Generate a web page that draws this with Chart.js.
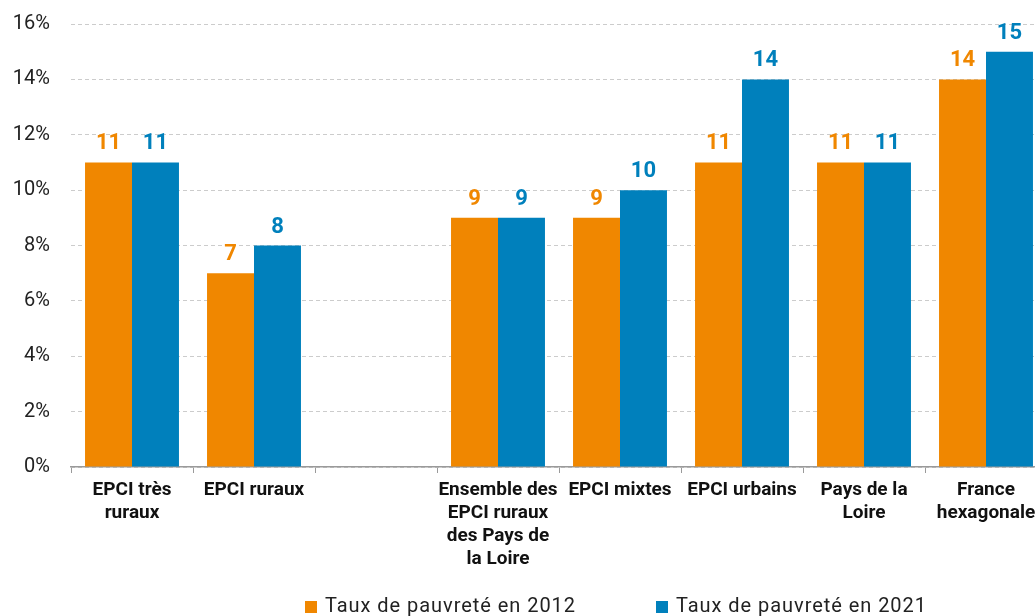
<!DOCTYPE html>
<html>
<head>
<meta charset="utf-8">
<script src="https://cdn.jsdelivr.net/npm/chart.js@4.4.0/dist/chart.umd.min.js"></script>
<style>
    html, body { margin: 0; padding: 0; background: #fff; overflow: hidden; }
    #wrap { position: relative; width: 1048px; height: 616px; }
    #legend {
        position: absolute; left: 305px; top: 594px;
        display: flex; align-items: center;
        font-family: Roboto, sans-serif; font-size: 20px; letter-spacing: 0.95px;
        line-height: 23px; color: #222;
    }
    .item { display: flex; align-items: center; margin-right: 80px; }
    .box { width: 12px; height: 12px; margin-right: 8px; margin-top: 2px; }
</style>
</head>
<body>
<div id="wrap">
    <canvas id="povertyChart" width="1048" height="616"></canvas>
    <div id="legend"></div>
</div>
<script>
var categories = [
    ["EPCI très", "ruraux"],
    ["EPCI ruraux"],
    "",
    ["Ensemble des", "EPCI ruraux", "des Pays de", "la Loire"],
    ["EPCI mixtes"],
    ["EPCI urbains"],
    ["Pays de la", "Loire"],
    ["France", "hexagonale"]
];
var taux2012 = [11, 7, null, 9, 9, 11, 11, 14];
var taux2021 = [11, 8, null, 9, 10, 14, 11, 15];
var yTicks = [0, 2, 4, 6, 8, 10, 12, 14, 16];
var seriesNames = ["Taux de pauvreté en 2012", "Taux de pauvreté en 2021"];
var seriesColors = ["#F08700", "#0080BC"];

// value labels drawn above each bar
const barValues = {
    id: "barValues",
    afterDatasetsDraw(chart) {
        const ctx = chart.ctx;
        ctx.save();
        ctx.font = "bold 22px Roboto";
        ctx.textAlign = "center";
        ctx.textBaseline = "alphabetic";
        chart.data.datasets.forEach(function (ds, i) {
            chart.getDatasetMeta(i).data.forEach(function (bar, j) {
                if (ds.data[j] === null) return;
                ctx.fillStyle = seriesColors[i];
                ctx.fillText(ds.data[j], bar.x, bar.y - 13);
            });
        });
        ctx.restore();
    },
};

var ctx = document.getElementById("povertyChart");
var myBarChart = new Chart(ctx, {
    type: "bar",
    data: {
        labels: categories,
        datasets: [
            {
                label: seriesNames[0],
                data: taux2012,
                backgroundColor: seriesColors[0],
                barPercentage: 1,
                categoryPercentage: 0.77,
            },
            {
                label: seriesNames[1],
                data: taux2021,
                backgroundColor: seriesColors[1],
                barPercentage: 1,
                categoryPercentage: 0.77,
            },
        ],
    },
    options: {
        responsive: false,
        animation: false,
        layout: {
            padding: { top: 24, right: 1, bottom: 38, left: 0 },
        },
        plugins: {
            legend: { display: false },
            tooltip: { enabled: false },
        },
        scales: {
            x: {
                grid: {
                    offset: true,
                    drawOnChartArea: false,
                    drawTicks: true,
                    tickLength: 6,
                    color: "#9a9a9a",
                },
                border: { color: "#9a9a9a", width: 1.5 },
                ticks: {
                    color: "#111",
                    font: { family: "Roboto", size: 19, weight: "bold", lineHeight: 1.21 },
                    padding: 6,
                    maxRotation: 0,
                    autoSkip: false,
                },
                afterFit: function (axis) {
                    axis.height = 111;
                },
            },
            y: {
                min: 0,
                max: 16,
                afterBuildTicks: function (axis) {
                    axis.ticks = yTicks.map(function (v) { return { value: v }; });
                },
                grid: {
                    color: "#cccccc",
                    drawTicks: false,
                },
                border: { display: false, dash: [4, 3] },
                ticks: {
                    color: "#222",
                    font: { family: "Roboto", size: 20 },
                    padding: 21,
                    callback: function (v) { return v + "%"; },
                },
                afterFit: function (axis) {
                    axis.width = 71;
                    axis.paddingTop = 0;
                },
            },
        },
    },
    plugins: [barValues],
});

var legend = document.getElementById("legend");
seriesNames.forEach(function (name, i) {
    var item = document.createElement("div");
    item.className = "item";
    var box = document.createElement("span");
    box.className = "box";
    box.style.background = seriesColors[i];
    var txt = document.createElement("span");
    txt.textContent = name;
    item.appendChild(box);
    item.appendChild(txt);
    legend.appendChild(item);
});
</script>
</body>
</html>
